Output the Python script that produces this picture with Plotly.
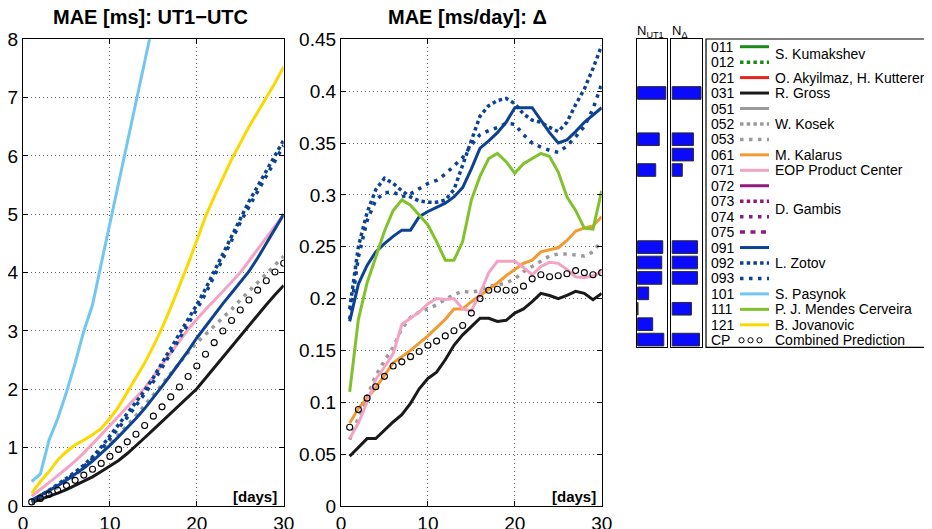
import plotly.graph_objects as go

W, H = 932, 529
OFF = 8  # default page margin of the HTML body
FW, FH = W - OFF, H - OFF
FONT = "Liberation Sans, Arial, Helvetica, sans-serif"

days = list(range(1, 31))

# ---------------- UT1-UTC MAE [ms] ----------------
ut1_031 = [0.06, 0.11, 0.16, 0.22, 0.28, 0.35, 0.42, 0.50, 0.59, 0.68, 0.78, 0.90, 1.03, 1.17, 1.31,
           1.45, 1.59, 1.73, 1.87, 2.01, 2.19, 2.37, 2.55, 2.74, 2.93, 3.11, 3.28, 3.45, 3.62, 3.78]
ut1_053 = [0.08, 0.15, 0.23, 0.32, 0.42, 0.53, 0.65, 0.78, 0.92, 1.07, 1.22, 1.38, 1.55, 1.72, 1.90,
           2.08, 2.27, 2.46, 2.63, 2.80, 2.94, 3.07, 3.22, 3.37, 3.53, 3.68, 3.83, 3.98, 4.13, 4.28]
ut1_071 = [0.17, 0.28, 0.40, 0.52, 0.64, 0.77, 0.91, 1.06, 1.22, 1.38, 1.54, 1.70, 1.86, 2.02, 2.22,
           2.42, 2.62, 2.83, 3.03, 3.20, 3.37, 3.52, 3.68, 3.84, 4.00, 4.20, 4.40, 4.60, 4.80, 5.00]
ut1_091 = [0.10, 0.18, 0.26, 0.35, 0.44, 0.54, 0.65, 0.77, 0.90, 1.04, 1.19, 1.34, 1.50, 1.67, 1.85,
           2.05, 2.25, 2.45, 2.66, 2.88, 3.08, 3.28, 3.47, 3.65, 3.83, 4.02, 4.25, 4.50, 4.75, 5.00]
ut1_092 = [0.08, 0.17, 0.27, 0.37, 0.47, 0.58, 0.70, 0.84, 1.01, 1.20, 1.38, 1.58, 1.78, 1.98, 2.20,
           2.45, 2.70, 2.93, 3.20, 3.45, 3.72, 4.02, 4.33, 4.64, 4.95, 5.22, 5.48, 5.74, 6.00, 6.27]
ut1_093 = [0.08, 0.16, 0.25, 0.35, 0.45, 0.56, 0.68, 0.81, 0.97, 1.15, 1.33, 1.52, 1.72, 1.92, 2.13,
           2.37, 2.62, 2.86, 3.11, 3.37, 3.64, 3.93, 4.24, 4.55, 4.86, 5.13, 5.40, 5.67, 5.93, 6.18]
ut1_101 = [0.42, 0.55, 1.13, 1.50, 1.95, 2.45, 3.00, 3.45, 4.15, 4.85, 5.55, 6.25, 6.93, 7.63, 8.35,
           9.00]
ut1_121 = [0.22, 0.42, 0.59, 0.79, 0.93, 1.05, 1.13, 1.22, 1.33, 1.50, 1.70, 1.95, 2.18, 2.45, 2.74,
           3.05, 3.40, 3.76, 4.15, 4.55, 4.96, 5.30, 5.62, 5.94, 6.22, 6.50, 6.75, 7.00, 7.25, 7.53]
ut1_cp = [0.07, 0.13, 0.20, 0.27, 0.35, 0.44, 0.53, 0.63, 0.73, 0.85, 0.97, 1.10, 1.23, 1.38, 1.54,
          1.70, 1.87, 2.04, 2.22, 2.40, 2.60, 2.80, 3.00, 3.18, 3.36, 3.53, 3.70, 3.86, 4.01, 4.16]

# ---------------- LOD (Delta) MAE [ms/day] ----------------
lod_031 = [0.048, 0.057, 0.065, 0.065, 0.073, 0.081, 0.088, 0.099, 0.113, 0.123, 0.129, 0.141, 0.155, 0.165, 0.173,
           0.181, 0.181, 0.178, 0.179, 0.186, 0.190, 0.197, 0.205, 0.203, 0.200, 0.203, 0.207, 0.205, 0.199, 0.205]
lod_053 = [0.064, 0.084, 0.105, 0.126, 0.140, 0.153, 0.171, 0.182, 0.187, 0.190, 0.194, 0.199, 0.204, 0.207, 0.206,
           0.208, 0.212, 0.213, 0.215, 0.219, 0.226, 0.231, 0.236, 0.241, 0.243, 0.243, 0.242, 0.241, 0.245, 0.256]
lod_061 = [0.080, 0.094, 0.104, 0.114, 0.126, 0.138, 0.144, 0.150, 0.157, 0.164, 0.172, 0.180, 0.190, 0.190, 0.197,
           0.203, 0.209, 0.215, 0.222, 0.228, 0.234, 0.237, 0.245, 0.247, 0.249, 0.256, 0.265, 0.268, 0.270, 0.279]
lod_071 = [0.065, 0.080, 0.100, 0.122, 0.134, 0.147, 0.175, 0.181, 0.187, 0.195, 0.200, 0.199, 0.200, 0.190, 0.188,
           0.205, 0.225, 0.236, 0.236, 0.236, 0.230, 0.223, 0.231, 0.235, 0.234, 0.228, 0.221, 0.220, 0.222, 0.226]
lod_091 = [0.178, 0.214, 0.232, 0.245, 0.253, 0.260, 0.266, 0.266, 0.279, 0.284, 0.288, 0.292, 0.298, 0.307, 0.325,
           0.345, 0.352, 0.360, 0.370, 0.384, 0.384, 0.384, 0.372, 0.360, 0.350, 0.353, 0.361, 0.370, 0.377, 0.384]
lod_092 = [0.190, 0.250, 0.283, 0.305, 0.316, 0.311, 0.304, 0.298, 0.294, 0.293, 0.293, 0.295, 0.305, 0.328, 0.352,
           0.376, 0.386, 0.391, 0.393, 0.388, 0.378, 0.372, 0.370, 0.365, 0.361, 0.370, 0.387, 0.402, 0.422, 0.444]
lod_093 = [0.180, 0.240, 0.275, 0.295, 0.302, 0.303, 0.298, 0.301, 0.306, 0.311, 0.314, 0.320, 0.328, 0.336, 0.348,
           0.358, 0.362, 0.365, 0.369, 0.368, 0.358, 0.350, 0.346, 0.343, 0.341, 0.347, 0.356, 0.366, 0.383, 0.407]
lod_111 = [0.110, 0.180, 0.215, 0.240, 0.265, 0.285, 0.295, 0.290, 0.280, 0.271, 0.255, 0.237, 0.237, 0.255, 0.295,
           0.318, 0.335, 0.340, 0.332, 0.321, 0.330, 0.335, 0.340, 0.337, 0.322, 0.298, 0.285, 0.268, 0.267, 0.304]
lod_cp = [0.076, 0.093, 0.104, 0.115, 0.125, 0.135, 0.139, 0.144, 0.149, 0.155, 0.159, 0.164, 0.169, 0.174, 0.186,
          0.200, 0.208, 0.209, 0.208, 0.208, 0.212, 0.219, 0.223, 0.221, 0.222, 0.224, 0.227, 0.225, 0.223, 0.225]

# ---------------- legend / counts ----------------
codes = ["011", "012", "021", "031", "051", "052", "053", "061", "071", "072",
         "073", "074", "075", "091", "092", "093", "101", "111", "121", "CP"]
n_ut1 = [None, None, None, 28, None, None, 21.5, None, 18, None,
         None, None, None, 25, 24, 24, 11, 0.4, 15, 26]
n_delta = [None, None, None, 28.5, None, None, 21, 21, 10, None,
           None, None, None, 25, 25, 25, None, 19, None, 27]
legend_names = ["S. Kumakshev", "O. Akyilmaz, H. Kutterer", "R. Gross", "W. Kosek", "M. Kalarus",
                "EOP Product Center", "D. Gambis", "L. Zotov", "S. Pasynok", "P. J. Mendes Cerveira",
                "B. Jovanovic", "Combined Prediction"]
name_rows = [0.5, 2, 3, 5, 7, 8, 10.5, 14, 16, 17, 18, 19]

GREEN, RED, BLACK, GRAY = "#1b8a1b", "#e5261f", "#1a1a1a", "#9a9a9a"
ORANGE, PINK, PURPLE, NAVY = "#f39a32", "#f4a3c4", "#8e1b7d", "#0d4293"
LBLUE, LGREEN, YELLOW = "#72c7f2", "#80c12c", "#fbd900"
DENSE, SPARSE, SQ = "3.5px,3.2px", "3.5px,5.5px", "5px,5.5px"
styles = {
    "011": (GREEN, "solid"), "012": (GREEN, DENSE), "021": (RED, "solid"), "031": (BLACK, "solid"),
    "051": (GRAY, "solid"), "052": (GRAY, DENSE), "053": (GRAY, SPARSE), "061": (ORANGE, "solid"),
    "071": (PINK, "solid"), "072": (PURPLE, "solid"), "073": (PURPLE, DENSE), "074": (PURPLE, SPARSE),
    "075": (PURPLE, SQ), "091": (NAVY, "solid"), "092": (NAVY, DENSE), "093": (NAVY, SPARSE),
    "101": (LBLUE, "solid"), "111": (LGREEN, "solid"), "121": (YELLOW, "solid"),
}


def px_x(x):
    return (x - OFF) / FW


def px_y(y):
    return 1 - (y - OFF) / FH


fig = go.Figure()


def add_line(code, ys, xa, ya):
    color, dash = styles[code]
    width = 3.5 if dash != "solid" else 3
    fig.add_trace(go.Scatter(x=days[:len(ys)], y=ys, mode="lines", xaxis=xa, yaxis=ya,
                             line=dict(color=color, width=width, dash=dash), showlegend=False,
                             hoverinfo="skip"))


def add_cp(ys, xa, ya):
    fig.add_trace(go.Scatter(x=days[:len(ys)], y=ys, mode="markers", xaxis=xa, yaxis=ya,
                             marker=dict(symbol="circle-open", size=6, color="black",
                                         line=dict(width=1.1, color="black")),
                             showlegend=False, hoverinfo="skip"))


for code, ys in [("031", ut1_031), ("053", ut1_053), ("071", ut1_071), ("091", ut1_091),
                 ("092", ut1_092), ("093", ut1_093), ("101", ut1_101), ("121", ut1_121)]:
    add_line(code, ys, "x", "y")
add_cp(ut1_cp, "x", "y")

for code, ys in [("031", lod_031), ("053", lod_053), ("061", lod_061), ("071", lod_071),
                 ("091", lod_091), ("092", lod_092), ("093", lod_093), ("111", lod_111)]:
    add_line(code, ys, "x2", "y2")
add_cp(lod_cp, "x2", "y2")

# count bars
bar_kw = dict(orientation="h", marker=dict(color="#0a0aff", line=dict(color="#2a2a2a", width=1)),
              showlegend=False, hoverinfo="skip", width=0.82)
fig.add_trace(go.Bar(x=n_ut1, y=codes, xaxis="x3", yaxis="y3", **bar_kw))
fig.add_trace(go.Bar(x=n_delta, y=codes, xaxis="x4", yaxis="y4", **bar_kw))

ydom = [px_y(506), px_y(39.3)]
common = dict(showline=True, linecolor="black", linewidth=1.2, mirror="ticks", ticks="inside",
              ticklen=5, tickcolor="black", showgrid=True, gridcolor="rgba(0,0,0,0.6)",
              griddash="1px,3px", gridwidth=1, zeroline=False, automargin=False,
              tickfont=dict(family=FONT, size=19, color="black"))
bdom = [px_y(347.3), px_y(39)]
box = dict(showline=True, linecolor="black", linewidth=1.2, mirror=True, showgrid=False,
           zeroline=False, showticklabels=False, ticks="", automargin=False)

fig.update_layout(
    width=FW, height=FH, margin=dict(l=0, r=0, t=0, b=0, autoexpand=False),
    paper_bgcolor="white", plot_bgcolor="white", showlegend=False,
    xaxis=dict(domain=[px_x(23), px_x(283.7)], range=[0, 30], tickvals=[0, 10, 20, 30], anchor="y", **common),
    yaxis=dict(domain=ydom, range=[0, 8], dtick=1, anchor="x", **common),
    xaxis2=dict(domain=[px_x(341), px_x(601.7)], range=[0, 30], tickvals=[0, 10, 20, 30], anchor="y2", **common),
    yaxis2=dict(domain=ydom, range=[0, 0.45], dtick=0.05, anchor="x2", **common),
    xaxis3=dict(domain=[px_x(637), px_x(667.3)], range=[-0.6, 29.5], anchor="y3", **box),
    yaxis3=dict(domain=bdom, categoryorder="array", categoryarray=codes, autorange="reversed",
                anchor="x3", **box),
    xaxis4=dict(domain=[px_x(671), px_x(702)], range=[-1.2, 29.5], anchor="y4", **box),
    yaxis4=dict(domain=bdom, categoryorder="array", categoryarray=codes, autorange="reversed",
                anchor="x4", **box),
    bargap=0.18,
)

ann = []
title_font = dict(family=FONT, size=20, color="black", weight="bold")
ann.append(dict(text="MAE [ms]: UT1\u2212UTC", x=px_x(150), y=px_y(17), xref="paper", yref="paper",
                showarrow=False, font=title_font, xanchor="center", yanchor="middle"))
ann.append(dict(text="MAE [ms/day]: \u0394", x=px_x(467), y=px_y(17), xref="paper", yref="paper",
                showarrow=False, font=title_font, xanchor="center", yanchor="middle"))
days_font = dict(family=FONT, size=15, color="black", weight="bold")
for xr in (279, 598):
    ann.append(dict(text="[days]", x=px_x(xr), y=px_y(496), xref="paper", yref="paper",
                    showarrow=False, font=days_font, xanchor="right", yanchor="middle"))
small = dict(family=FONT, size=13, color="black")
ann.append(dict(text="N<sub>UT1</sub>", x=px_x(635), y=px_y(31), xref="paper", yref="paper",
                showarrow=False, font=small, xanchor="left", yanchor="middle"))
ann.append(dict(text="N<sub>\u0394</sub>", x=px_x(670), y=px_y(31), xref="paper", yref="paper",
                showarrow=False, font=small, xanchor="left", yanchor="middle"))

ROW0, DROW = 46.7, 15.45
lfont = dict(family=FONT, size=14, color="black")
shapes = [dict(type="rect", xref="paper", yref="paper", x0=px_x(706), x1=px_x(931),
               y0=px_y(347.3), y1=px_y(39), line=dict(color="black", width=1.2))]
for i, code in enumerate(codes):
    yc = ROW0 + i * DROW
    ann.append(dict(text=code, x=px_x(709), y=px_y(yc), xref="paper", yref="paper",
                    showarrow=False, font=lfont, xanchor="left", yanchor="middle"))
    if code in styles:
        color, dash = styles[code]
        shapes.append(dict(type="line", xref="paper", yref="paper", x0=px_x(740), x1=px_x(769),
                           y0=px_y(yc), y1=px_y(yc),
                           line=dict(color=color, width=3.5 if dash != "solid" else 3, dash=dash)))
    else:
        for cx in (741.5, 750.5, 759.5):
            r = 2.6
            shapes.append(dict(type="circle", xref="paper", yref="paper",
                               x0=px_x(cx - r), x1=px_x(cx + r), y0=px_y(yc + r), y1=px_y(yc - r),
                               line=dict(color="black", width=1)))
for name, r in zip(legend_names, name_rows):
    ann.append(dict(text=name, x=px_x(773), y=px_y(ROW0 + r * DROW), xref="paper", yref="paper",
                    showarrow=False, font=lfont, xanchor="left", yanchor="middle"))

fig.update_layout(annotations=ann, shapes=shapes)
fig.write_html("out.html")
